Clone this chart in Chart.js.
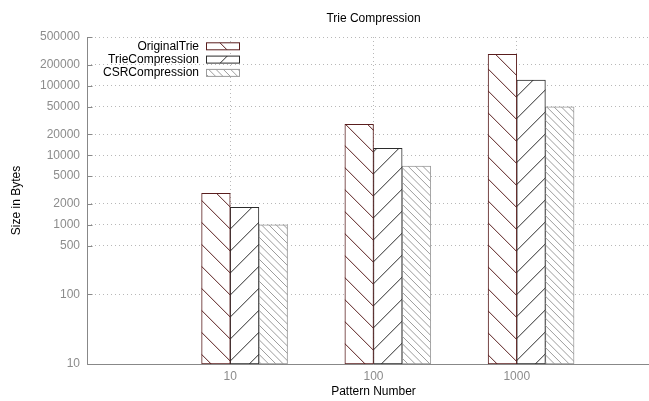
<!DOCTYPE html>
<html><head><meta charset="utf-8">
<script src="https://cdn.jsdelivr.net/npm/chart.js@4.4.0/dist/chart.umd.min.js"></script>
<style>
html,body{margin:0;padding:0;overflow:hidden;background:#fff;width:649px;height:401px}
#wrap{width:660px;height:401px}
</style>
</head><body><div id="wrap"><canvas id="c" width="660" height="401"></canvas></div>
<script>
// ---- data ----
const categories = ['10', '100', '1000'];
const seriesNames = ['OriginalTrie', 'TrieCompression', 'CSRCompression'];
const originalTrie = [2840, 27800, 281600];
const trieCompression = [1780, 12560, 120300];
const csrCompression = [1000, 7000, 49800];
const yTickValues = [10, 100, 500, 1000, 2000, 5000, 10000, 20000, 50000, 100000, 200000, 500000];
const chartTitle = 'Trie Compression';
const xTitle = 'Pattern Number';
const yTitle = 'Size in Bytes';

// ---- style ----
const FONT = "'Liberation Sans', Arial, Helvetica, sans-serif";
const seriesColors = ['#5a1e1e', '#2b2b2b', '#9c9c9c'];
const clusterOffset = [-0.1, 0.1, 0.3]; // gnuplot clustered histogram (gap 2)
const hatchStyles = [
  {dir: -1, period: 22, off: -1.2},
  {dir: 1, period: 22, off: null},
  {dir: -1, period: 7.33, off: 0}
];
const seriesValues = [originalTrie, trieCompression, csrCompression];

function drawHatch(ctx, L, T, R, B, h, color, off) {
  ctx.save();
  ctx.beginPath(); ctx.rect(L, T, R - L, B - T); ctx.clip();
  ctx.strokeStyle = color; ctx.lineWidth = 1;
  ctx.beginPath();
  const P = h.period;
  if (h.dir < 0) {
    const cMin = T - R, cMax = B - L;
    let c = Math.floor((cMin - off) / P) * P + off;
    for (; c <= cMax; c += P) { ctx.moveTo(L - 1, L - 1 + c); ctx.lineTo(R + 1, R + 1 + c); }
  } else {
    const cMin = T + L, cMax = B + R;
    let c = Math.floor((cMin - off) / P) * P + off;
    for (; c <= cMax; c += P) { ctx.moveTo(L - 1, c - L + 1); ctx.lineTo(R + 1, c - R - 1); }
  }
  ctx.stroke();
  ctx.restore();
}

const hatchPlugin = {
  id: 'hatch',
  afterDatasetsDraw(chart) {
    const ctx = chart.ctx;
    const xs = chart.scales.x;
    const x0 = xs.getPixelForValue(0);
    chart.data.datasets.forEach((ds, j) => {
      const meta = chart.getDatasetMeta(j);
      const h = hatchStyles[j];
      const off = h.off === null ? (hatchStyles[0].off + 2 * x0) : h.off;
      meta.data.forEach(el => {
        const p = el.getProps(['x', 'y', 'base', 'width'], true);
        drawHatch(ctx, p.x - p.width / 2, p.y, p.x + p.width / 2, p.base, h, seriesColors[j], off);
      });
    });
  },
  afterDraw(chart) {
    const ctx = chart.ctx;
    const ca = chart.chartArea;
    const ys = chart.scales.y;
    const xs = chart.scales.x;
    const x0 = xs.getPixelForValue(0);
    // axis lines (left and bottom only, gnuplot border 3)
    ctx.save();
    ctx.strokeStyle = '#888'; ctx.lineWidth = 1;
    ctx.beginPath();
    const ax = Math.round(ca.left) + 0.5, ay = Math.round(ca.bottom) + 0.5;
    ctx.moveTo(ax, Math.round(ca.top)); ctx.lineTo(ax, ay);
    ctx.lineTo(ca.right, ay);
    // inward tick marks
    ys.ticks.forEach(t => {
      const py = Math.round(ys.getPixelForValue(t.value)) + 0.5;
      ctx.moveTo(ax, py); ctx.lineTo(ax + 5, py);
    });
    ctx.stroke();
    ctx.restore();
    // legend
    ctx.save();
    ctx.font = '12px ' + FONT;
    ctx.textAlign = 'right'; ctx.textBaseline = 'middle';
    chart.data.datasets.forEach((ds, j) => {
      const rowY = ca.top + 9.3 + j * 13.3;
      ctx.fillStyle = '#000';
      ctx.fillText(ds.label, ca.left + 112, rowY);
      const L = ca.left + 119.5, R = L + 33, T = rowY - 3.5, B = rowY + 3.5;
      ctx.fillStyle = '#fff'; ctx.fillRect(L, T, R - L, B - T);
      const h = hatchStyles[j];
      const off = h.off === null ? (hatchStyles[0].off + 2 * x0) : h.off;
      drawHatch(ctx, L, T, R, B, h, seriesColors[j], off);
      ctx.strokeStyle = seriesColors[j]; ctx.lineWidth = 1;
      ctx.strokeRect(L, T, R - L, B - T);
    });
    ctx.restore();
  }
};

const datasets = seriesValues.map((vals, j) => ({
  label: seriesNames[j],
  data: vals.map((v, i) => ({x: i + clusterOffset[j], y: v})),
  backgroundColor: '#ffffff',
  borderColor: seriesColors[j],
  borderWidth: 1,
  borderSkipped: false,
  grouped: false,
  categoryPercentage: 1,
  barPercentage: 1
}));

new Chart(document.getElementById('c'), {
  type: 'bar',
  data: {datasets},
  options: {
    responsive: false,
    animation: false,
    devicePixelRatio: 1,
    layout: {padding: 0},
    plugins: {
      legend: {display: false},
      tooltip: {enabled: false},
      title: {
        display: true, text: chartTitle, fullSize: false, color: '#000',
        font: {family: FONT, size: 12, weight: 'normal'},
        padding: {top: 11.3, bottom: 11.3}
      }
    },
    scales: {
      x: {
        type: 'linear', min: -1, max: 3, offset: false,
        afterBuildTicks: s => { s.ticks = categories.map((c, i) => ({value: i})); },
        afterFit: s => { s.height = 37; },
        ticks: {
          callback: v => categories[v], color: '#8c8c8c', padding: 5,
          autoSkip: false, maxRotation: 0, font: {family: FONT, size: 12}
        },
        grid: {color: '#b8b8b8', lineWidth: 1, drawTicks: false, offset: false},
        border: {display: false, color: 'rgba(0,0,0,0)', width: 0, dash: [1, 3]},
        title: {display: true, text: xTitle, color: '#000', font: {family: FONT, size: 12}, padding: {top: 0, bottom: 2}}
      },
      y: {
        type: 'logarithmic', min: 10, max: 500000,
        afterBuildTicks: s => { s.ticks = yTickValues.map(v => ({value: v})); },
        afterFit: s => { s.width = 87; },
        ticks: {
          callback: v => String(v), color: '#8c8c8c', padding: 7,
          autoSkip: false, font: {family: FONT, size: 12}
        },
        grid: {color: '#b8b8b8', lineWidth: 1, drawTicks: false},
        border: {display: false, color: 'rgba(0,0,0,0)', width: 0, dash: [1, 3]},
        title: {display: true, text: yTitle, color: '#000', font: {family: FONT, size: 12}, padding: {top: 9.5, bottom: 0}}
      }
    }
  },
  plugins: [hatchPlugin]
});
</script>
</body></html>
